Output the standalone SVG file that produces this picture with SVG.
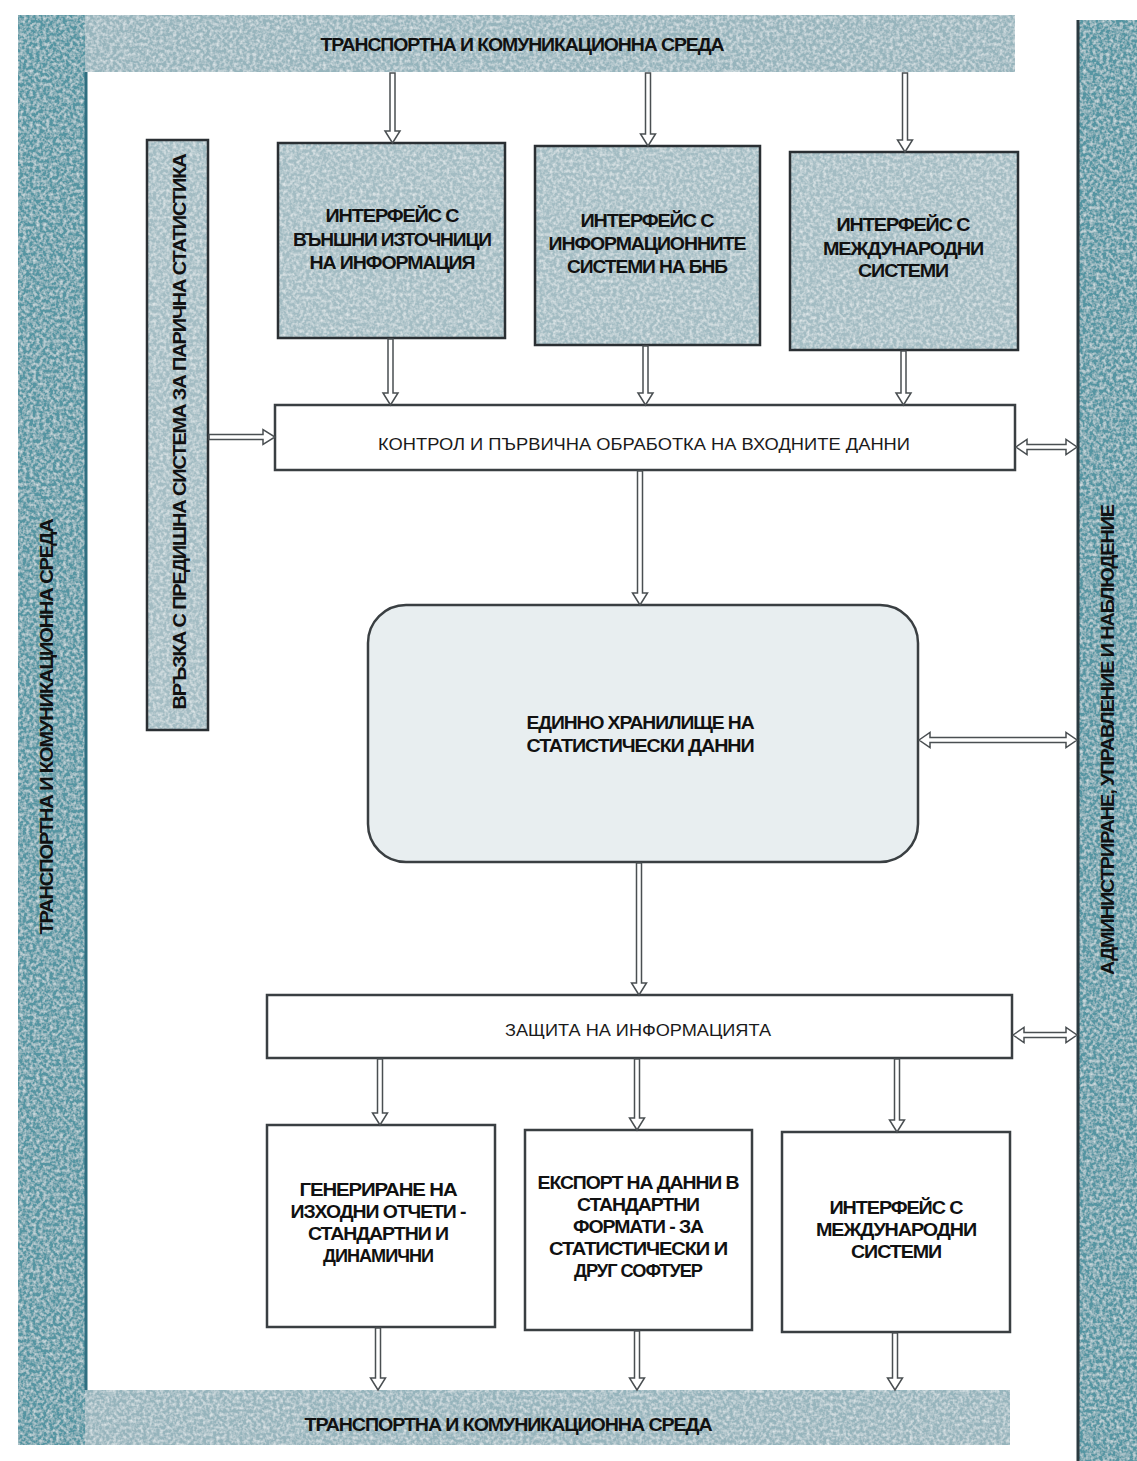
<svg xmlns="http://www.w3.org/2000/svg" width="1137" height="1461" viewBox="0 0 1137 1461">
<defs>
<filter id="grain" x="0" y="0" width="100%" height="100%">
<feTurbulence type="fractalNoise" baseFrequency="0.3" numOctaves="2" seed="3" result="n"/>
<feColorMatrix in="n" type="matrix" values="0 0 0 0 1  0 0 0 0 1  0 0 0 0 1  0 0 0 -1.2 0.75" result="m"/>
<feComposite in="m" in2="SourceGraphic" operator="in" result="c"/>
<feMerge><feMergeNode in="SourceGraphic"/><feMergeNode in="c"/></feMerge>
</filter>
</defs>
<style>
.bar{fill:#96b4bc;filter:url(#grain)}
.sidebar{fill:#5595a2;filter:url(#grain)}
.boxfill{fill:#a3bcc3;filter:url(#grain)}
.line{fill:none;stroke:#2a2f33;stroke-width:2.5}
.wbox{fill:#ffffff;stroke:#3a3f42;stroke-width:2.5}
.store{fill:#e8eef0;stroke:#3a3f42;stroke-width:2.5}
.conn{fill:#ffffff;stroke:#4a4f52;stroke-width:1.5;stroke-linejoin:miter}
.t{font-family:"Liberation Sans",Arial,sans-serif;font-weight:bold;fill:#111;text-anchor:middle}
.tb{font-size:18px;letter-spacing:-1px}
.tn{font-family:"Liberation Sans",Arial,sans-serif;font-weight:normal;fill:#1a1a1a;text-anchor:middle;font-size:17px}
</style>
<rect width="1137" height="1461" fill="#ffffff"/>

<g id="frame">
<rect class="bar" x="18" y="15" width="997" height="57"/>
<rect class="bar" x="18" y="1390" width="992" height="55"/>
<rect class="sidebar" x="18" y="15" width="67" height="1430"/>
<line x1="86" y1="72" x2="86" y2="1390" stroke="#2f6e80" stroke-width="3"/>
<text class="t tb" x="522" y="51" textLength="403" lengthAdjust="spacingAndGlyphs">ТРАНСПОРТНА И КОМУНИКАЦИОННА СРЕДА</text>
<text class="t tb" x="508" y="1431" textLength="407" lengthAdjust="spacingAndGlyphs">ТРАНСПОРТНА И КОМУНИКАЦИОННА СРЕДА</text>
<text class="t tb" transform="translate(53,727) rotate(-90)" textLength="415" lengthAdjust="spacingAndGlyphs">ТРАНСПОРТНА И КОМУНИКАЦИОННА СРЕДА</text>
</g>

<g id="admin">
<rect class="sidebar" x="1078" y="20" width="59" height="1441"/>
<line x1="1078" y1="20" x2="1078" y2="1461" stroke="#2a3a40" stroke-width="3"/>
<text class="t tb" transform="translate(1114,740) rotate(-90)" textLength="470" lengthAdjust="spacingAndGlyphs">АДМИНИСТРИРАНЕ, УПРАВЛЕНИЕ И НАБЛЮДЕНИЕ</text>
</g>

<g id="legacy">
<rect class="boxfill" x="147" y="140" width="61" height="590"/>
<rect class="line" x="147" y="140" width="61" height="590"/>
<text class="t tb" transform="translate(186,432) rotate(-90)" textLength="555" lengthAdjust="spacingAndGlyphs">ВРЪЗКА С ПРЕДИШНА СИСТЕМА ЗА ПАРИЧНА СТАТИСТИКА</text>
</g>

<g id="in1">
<rect class="boxfill" x="278" y="143" width="227" height="195"/>
<rect class="line" x="278" y="143" width="227" height="195"/>
<text class="t tb" x="392" y="222" textLength="133" lengthAdjust="spacingAndGlyphs">ИНТЕРФЕЙС С</text>
<text class="t tb" x="392" y="246" textLength="198" lengthAdjust="spacingAndGlyphs">ВЪНШНИ ИЗТОЧНИЦИ</text>
<text class="t tb" x="392" y="269" textLength="165" lengthAdjust="spacingAndGlyphs">НА ИНФОРМАЦИЯ</text>
</g>
<g id="in2">
<rect class="boxfill" x="535" y="146" width="225" height="199"/>
<rect class="line" x="535" y="146" width="225" height="199"/>
<text class="t tb" x="647" y="227" textLength="133" lengthAdjust="spacingAndGlyphs">ИНТЕРФЕЙС С</text>
<text class="t tb" x="647" y="250" textLength="197" lengthAdjust="spacingAndGlyphs">ИНФОРМАЦИОННИТЕ</text>
<text class="t tb" x="647" y="273" textLength="160" lengthAdjust="spacingAndGlyphs">СИСТЕМИ НА БНБ</text>
</g>
<g id="in3">
<rect class="boxfill" x="790" y="152" width="228" height="198"/>
<rect class="line" x="790" y="152" width="228" height="198"/>
<text class="t tb" x="903" y="231" textLength="133" lengthAdjust="spacingAndGlyphs">ИНТЕРФЕЙС С</text>
<text class="t tb" x="903" y="255" textLength="160" lengthAdjust="spacingAndGlyphs">МЕЖДУНАРОДНИ</text>
<text class="t tb" x="903" y="277" textLength="90" lengthAdjust="spacingAndGlyphs">СИСТЕМИ</text>
</g>

<g id="control">
<rect class="wbox" x="275" y="405" width="740" height="65"/>
<text class="tn" x="644" y="450" textLength="532" lengthAdjust="spacingAndGlyphs">КОНТРОЛ И ПЪРВИЧНА ОБРАБОТКА НА ВХОДНИТЕ ДАННИ</text>
</g>

<g id="storage">
<rect class="store" x="368" y="605" width="550" height="257" rx="38" ry="38"/>
<text class="t tb" x="640" y="729" textLength="227" lengthAdjust="spacingAndGlyphs">ЕДИННО ХРАНИЛИЩЕ НА</text>
<text class="t tb" x="640" y="752" textLength="227" lengthAdjust="spacingAndGlyphs">СТАТИСТИЧЕСКИ ДАННИ</text>
</g>

<g id="protection">
<rect class="wbox" x="267" y="995" width="745" height="63"/>
<text class="tn" x="638" y="1036" textLength="266" lengthAdjust="spacingAndGlyphs">ЗАЩИТА НА ИНФОРМАЦИЯТА</text>
</g>

<g id="out1">
<rect class="wbox" x="267" y="1125" width="228" height="202"/>
<text class="t tb" x="378" y="1196" textLength="157" lengthAdjust="spacingAndGlyphs">ГЕНЕРИРАНЕ НА</text>
<text class="t tb" x="378" y="1218" textLength="175" lengthAdjust="spacingAndGlyphs">ИЗХОДНИ ОТЧЕТИ -</text>
<text class="t tb" x="378" y="1240" textLength="140" lengthAdjust="spacingAndGlyphs">СТАНДАРТНИ И</text>
<text class="t tb" x="378" y="1262" textLength="110" lengthAdjust="spacingAndGlyphs">ДИНАМИЧНИ</text>
</g>
<g id="out2">
<rect class="wbox" x="525" y="1130" width="227" height="200"/>
<text class="t tb" x="638" y="1189" textLength="201" lengthAdjust="spacingAndGlyphs">ЕКСПОРТ НА ДАННИ В</text>
<text class="t tb" x="638" y="1211" textLength="122" lengthAdjust="spacingAndGlyphs">СТАНДАРТНИ</text>
<text class="t tb" x="638" y="1233" textLength="130" lengthAdjust="spacingAndGlyphs">ФОРМАТИ - ЗА</text>
<text class="t tb" x="638" y="1255" textLength="178" lengthAdjust="spacingAndGlyphs">СТАТИСТИЧЕСКИ И</text>
<text class="t tb" x="638" y="1277" textLength="128" lengthAdjust="spacingAndGlyphs">ДРУГ СОФТУЕР</text>
</g>
<g id="out3">
<rect class="wbox" x="782" y="1132" width="228" height="200"/>
<text class="t tb" x="896" y="1214" textLength="133" lengthAdjust="spacingAndGlyphs">ИНТЕРФЕЙС С</text>
<text class="t tb" x="896" y="1236" textLength="160" lengthAdjust="spacingAndGlyphs">МЕЖДУНАРОДНИ</text>
<text class="t tb" x="896" y="1258" textLength="90" lengthAdjust="spacingAndGlyphs">СИСТЕМИ</text>
</g>

<g id="connectors">
<path class="conn" d="M390 73 V131 H385 L392.5 143 L400 131 H395 V73 Z"/>
<path class="conn" d="M645.5 73 V134 H640.5 L648 146 L655.5 134 H650.5 V73 Z"/>
<path class="conn" d="M902.5 73 V140 H897.5 L905 152 L912.5 140 H907.5 V73 Z"/>
<path class="conn" d="M388 339 V393 H383 L390.5 405 L398 393 H393 V339 Z"/>
<path class="conn" d="M643 346 V393 H638 L645.5 405 L653 393 H648 V346 Z"/>
<path class="conn" d="M901 351 V393 H896 L903.5 405 L911 393 H906 V351 Z"/>
<path class="conn" d="M209 434.5 H263 V429.5 L275 437 L263 444.5 V439.5 H209 Z"/>
<path class="conn" d="M1016 447 L1027 439.5 V444.5 H1066 V439.5 L1077 447 L1066 454.5 V449.5 H1027 V454.5 Z"/>
<path class="conn" d="M637.5 471 V593 H632.5 L640 605 L647.5 593 H642.5 V471 Z"/>
<path class="conn" d="M919 740 L930 732.5 V737.5 H1066 V732.5 L1077 740 L1066 747.5 V742.5 H930 V747.5 Z"/>
<path class="conn" d="M636.5 863 V983 H631.5 L639 995 L646.5 983 H641.5 V863 Z"/>
<path class="conn" d="M1013 1035 L1024 1027.5 V1032.5 H1066 V1027.5 L1077 1035 L1066 1042.5 V1037.5 H1024 V1042.5 Z"/>
<path class="conn" d="M377.5 1059 V1113 H372.5 L380 1125 L387.5 1113 H382.5 V1059 Z"/>
<path class="conn" d="M634.5 1059 V1118 H629.5 L637 1130 L644.5 1118 H639.5 V1059 Z"/>
<path class="conn" d="M894.5 1059 V1120 H889.5 L897 1132 L904.5 1120 H899.5 V1059 Z"/>
<path class="conn" d="M375.5 1328 V1378 H370.5 L378 1390 L385.5 1378 H380.5 V1328 Z"/>
<path class="conn" d="M634.5 1331 V1378 H629.5 L637 1390 L644.5 1378 H639.5 V1331 Z"/>
<path class="conn" d="M892.5 1333 V1378 H887.5 L895 1390 L902.5 1378 H897.5 V1333 Z"/>
</g>
</svg>
